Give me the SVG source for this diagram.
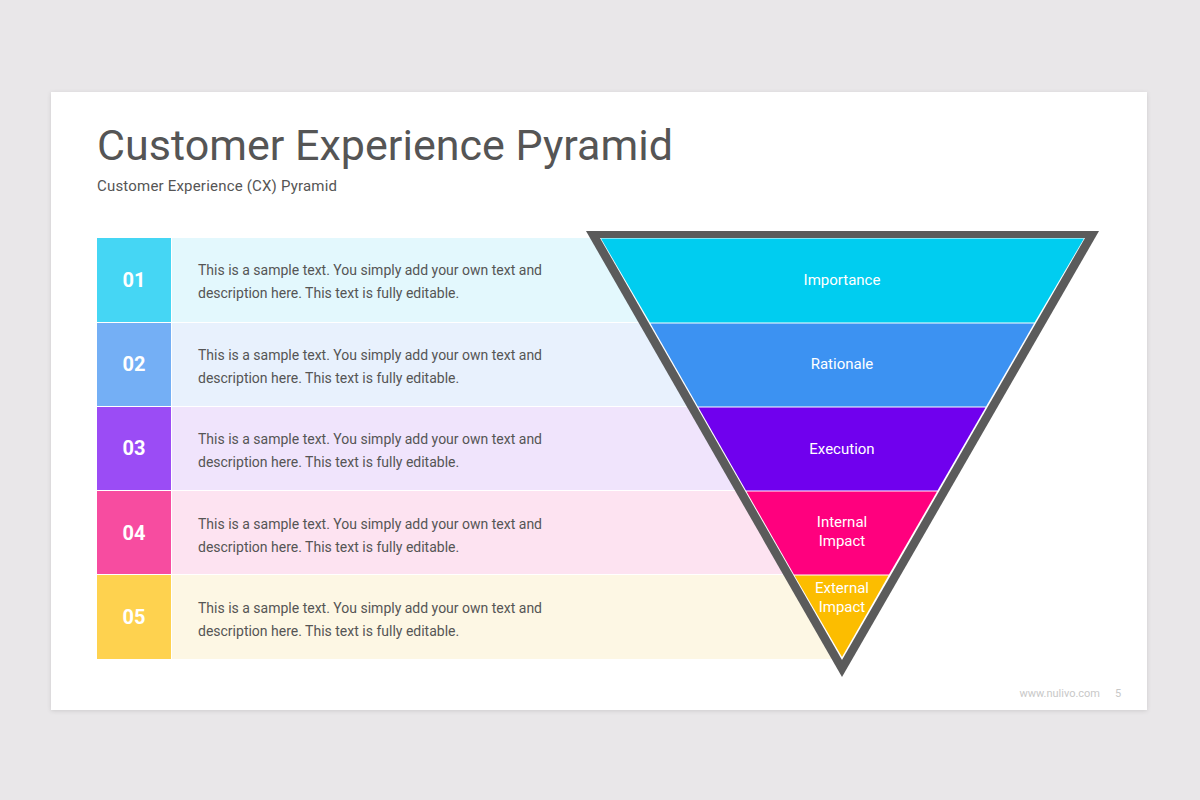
<svg xmlns="http://www.w3.org/2000/svg" width="1200" height="800" viewBox="0 0 1200 800">
<defs>
<filter id="sh" x="-5%" y="-5%" width="110%" height="110%"><feDropShadow dx="0" dy="1" stdDeviation="2" flood-color="#000" flood-opacity="0.12"/></filter>
<style>
text{font-family:Roboto,"Liberation Sans",sans-serif}
.num{fill:#fff;font-size:20px;font-weight:bold;text-anchor:middle}
.desc{fill:#555;font-size:14px}
.lbl{fill:#fff;font-size:15px;text-anchor:middle}
</style>
</defs>
<rect width="1200" height="800" fill="#e9e7e9"/>
<rect x="51" y="92" width="1096" height="618" fill="#fff" filter="url(#sh)"/>
<text x="97" y="160" font-size="43" fill="#555" textLength="576" lengthAdjust="spacing">Customer Experience Pyramid</text>
<text x="97" y="191" font-size="15" fill="#555" textLength="240" lengthAdjust="spacing">Customer Experience (CX) Pyramid</text>
<g id="row1"><rect x="172" y="238" width="670" height="84" fill="#e3f8fd"/><rect x="97" y="238" width="74" height="84" fill="#45d6f4"/><text class="num" x="134" y="287">01</text><text class="desc" x="198" y="275">This is a sample text. You simply add your own text and</text><text class="desc" x="198" y="298">description here. This text is fully editable.</text></g>
<g id="row2"><rect x="172" y="323" width="670" height="83" fill="#e8f1fd"/><rect x="97" y="323" width="74" height="83" fill="#74aff5"/><text class="num" x="134" y="371">02</text><text class="desc" x="198" y="360">This is a sample text. You simply add your own text and</text><text class="desc" x="198" y="383">description here. This text is fully editable.</text></g>
<g id="row3"><rect x="172" y="407" width="670" height="83" fill="#f0e4fc"/><rect x="97" y="407" width="74" height="83" fill="#9b4cf5"/><text class="num" x="134" y="455">03</text><text class="desc" x="198" y="444">This is a sample text. You simply add your own text and</text><text class="desc" x="198" y="467">description here. This text is fully editable.</text></g>
<g id="row4"><rect x="172" y="491" width="670" height="83" fill="#fde3f1"/><rect x="97" y="491" width="74" height="83" fill="#f74ca0"/><text class="num" x="134" y="540">04</text><text class="desc" x="198" y="529">This is a sample text. You simply add your own text and</text><text class="desc" x="198" y="552">description here. This text is fully editable.</text></g>
<g id="row5"><rect x="172" y="575" width="670" height="84" fill="#fdf7e4"/><rect x="97" y="575" width="74" height="84" fill="#fed24f"/><text class="num" x="134" y="624">05</text><text class="desc" x="198" y="613">This is a sample text. You simply add your own text and</text><text class="desc" x="198" y="636">description here. This text is fully editable.</text></g>
<g id="pyramid">
<polygon points="586,231 1099,231 842,677" fill="#5b5b5b"/>
<polygon points="600,238 1085,238 842,660" fill="#fff"/>
<polygon points="601,238.5 1084,238.5 1034.5,322.5 650,322.5" fill="#00cdf0"/>
<polygon points="650.5,323.5 1034,323.5 986,406.5 698,406.5" fill="#3c92f2"/>
<polygon points="698.5,407.5 985.5,407.5 937.5,490.5 746,490.5" fill="#7000ee"/>
<polygon points="746.5,491.5 937,491.5 889,574.5 794,574.5" fill="#ff007e"/>
<polygon points="794.5,575.5 888.5,575.5 842,657" fill="#fcbd00"/>
<text class="lbl" x="842" y="285">Importance</text>
<text class="lbl" x="842" y="369">Rationale</text>
<text class="lbl" x="842" y="454">Execution</text>
<text class="lbl" x="842" y="527">Internal</text>
<text class="lbl" x="842" y="546">Impact</text>
<text class="lbl" x="842" y="593">External</text>
<text class="lbl" x="842" y="612">Impact</text>
</g>
<g id="connectors"/>
<text x="1100" y="697" font-size="11" fill="#c8c8c8" text-anchor="end">www.nulivo.com</text>
<text x="1118" y="697" font-size="11" fill="#c8c8c8" text-anchor="middle">5</text>
</svg>
